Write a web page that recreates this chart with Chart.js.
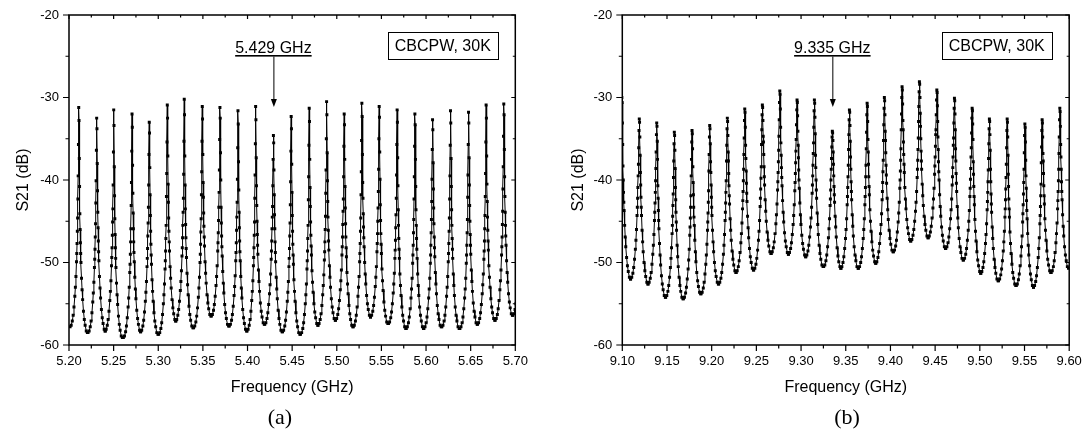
<!DOCTYPE html>
<html>
<head>
<meta charset="utf-8">
<title>CBCPW resonator S21</title>
<script src="https://cdn.jsdelivr.net/npm/chart.js@4.4.1/dist/chart.umd.min.js"></script>
<style>
    html, body { margin: 0; padding: 0; background: #fff; }
    #wrap { position: relative; width: 1086px; height: 433px; overflow: hidden; }
    #wrap canvas { position: absolute; top: 0; }
    #cvA { left: 0; }
    #cvB { left: 543px; }
    .tag { position: absolute; top: 404px; width: 80px; text-align: center; line-height: 24px;
           font: 22px "Liberation Serif", "Times New Roman", serif; color: #000; }
</style>
</head>
<body>
<div id="wrap">
    <canvas id="cvA" width="543" height="433"></canvas>
    <canvas id="cvB" width="543" height="433"></canvas>
    <div class="tag" style="left:240px">(a)</div>
    <div class="tag" style="left:807px">(b)</div>
</div>
<script>
// VNA sweep: 1601 points over 0.5 GHz; samples kept around each resonance,
// offsets counted in sweep steps from the top sample of the peak
const SWEEP_STEP = 0.5 / 1600;
const sampleOffsets = [-31, -27, -23, -20, -17, -14, -12, -10, -8, -7, -6, -5, -4, -3, -2, -1, 0,
                       1, 2, 3, 4, 5, 6, 7, 8, 10, 12, 14, 17, 20, 23, 27, 31];

// (a) 5.2 - 5.7 GHz
const xTicksA = [5.20, 5.25, 5.30, 5.35, 5.40, 5.45, 5.50, 5.55, 5.60, 5.65, 5.70];
const centresA = [5.2109, 5.2310, 5.2501, 5.2706, 5.2899, 5.3101, 5.3291, 5.3493, 5.3691, 5.3893,
                  5.4091, 5.4290, 5.4489, 5.4691, 5.4886, 5.5083, 5.5281, 5.5475, 5.5676, 5.5875,
                  5.6073, 5.6274, 5.6476, 5.6673, 5.6871, 5.7069];
const s21A = [
    [-57.8, -57.6, -57.1, -56.4, -55.4, -54.1, -53.0, -51.7, -49.9, -48.9, -47.7, -46.2, -44.6, -42.3, -39.5, -35.7, -31.2, -32.8, -37.4, -40.8, -44.1, -46.0, -47.6, -48.9, -50.0, -51.9, -53.3, -54.5, -55.9, -56.9, -57.6, -58.3, -58.5],
    [-58.5, -58.3, -57.8, -57.1, -56.1, -54.8, -53.7, -52.4, -50.6, -49.6, -48.4, -46.9, -45.3, -42.8, -40.1, -36.4, -32.5, -33.8, -38.0, -41.3, -43.9, -45.8, -47.4, -48.7, -49.8, -51.7, -53.1, -54.3, -55.7, -56.7, -57.4, -58.1, -58.3],
    [-58.3, -58.1, -57.6, -56.9, -55.9, -54.6, -53.5, -52.2, -50.4, -49.4, -48.2, -46.7, -45.1, -43.5, -40.6, -36.6, -31.5, -33.4, -38.4, -41.9, -44.7, -46.6, -48.2, -49.5, -50.6, -52.5, -53.9, -55.1, -56.5, -57.5, -58.2, -58.9, -59.1],
    [-59.1, -58.9, -58.4, -57.7, -56.7, -55.4, -54.3, -53.0, -51.2, -50.2, -49.0, -47.5, -45.9, -43.1, -40.3, -36.5, -32.0, -33.6, -38.2, -41.6, -44.0, -45.9, -47.5, -48.8, -49.9, -51.8, -53.2, -54.4, -55.8, -56.8, -57.5, -58.2, -58.4],
    [-58.4, -58.2, -57.7, -57.0, -56.0, -54.7, -53.6, -52.3, -50.5, -49.5, -48.3, -46.8, -45.2, -43.3, -40.6, -36.9, -33.0, -34.3, -38.5, -41.8, -44.3, -46.2, -47.8, -49.1, -50.2, -52.1, -53.5, -54.7, -56.1, -57.1, -57.8, -58.5, -58.7],
    [-58.7, -58.5, -58.0, -57.3, -56.3, -55.0, -53.9, -52.6, -50.8, -49.8, -48.6, -47.1, -45.5, -42.0, -39.2, -35.4, -30.9, -32.5, -37.1, -40.5, -42.7, -44.6, -46.2, -47.5, -48.6, -50.5, -51.9, -53.1, -54.5, -55.5, -56.2, -56.9, -57.1],
    [-57.1, -56.9, -56.4, -55.7, -54.7, -53.4, -52.3, -51.0, -49.2, -48.2, -47.0, -45.5, -43.9, -42.2, -39.3, -35.3, -30.2, -32.1, -37.1, -40.6, -43.5, -45.4, -47.0, -48.3, -49.4, -51.3, -52.7, -53.9, -55.3, -56.3, -57.0, -57.7, -57.9],
    [-57.9, -57.7, -57.2, -56.5, -55.5, -54.2, -53.1, -51.8, -50.0, -49.0, -47.8, -46.3, -44.7, -41.8, -39.0, -35.3, -31.1, -32.6, -36.9, -40.3, -42.1, -44.0, -45.6, -46.9, -48.0, -49.9, -51.3, -52.5, -53.9, -54.9, -55.6, -56.3, -56.5],
    [-56.5, -56.3, -55.8, -55.1, -54.1, -52.8, -51.7, -50.4, -48.6, -47.6, -46.4, -44.9, -43.3, -41.5, -38.8, -35.1, -31.2, -32.5, -36.7, -40.0, -43.3, -45.2, -46.8, -48.1, -49.2, -51.1, -52.5, -53.7, -55.1, -56.1, -56.8, -57.5, -57.7],
    [-57.7, -57.5, -57.0, -56.3, -55.3, -54.0, -52.9, -51.6, -49.8, -48.8, -47.6, -46.1, -44.5, -42.7, -39.9, -36.1, -31.6, -33.2, -37.8, -41.2, -43.9, -45.8, -47.4, -48.7, -49.8, -51.7, -53.1, -54.3, -55.7, -56.7, -57.4, -58.1, -58.3],
    [-58.3, -58.1, -57.6, -56.9, -55.9, -54.6, -53.5, -52.2, -50.4, -49.4, -48.2, -46.7, -45.1, -42.2, -39.4, -35.6, -31.1, -32.7, -37.3, -40.7, -43.1, -45.0, -46.6, -47.9, -49.0, -50.9, -52.3, -53.5, -54.9, -55.9, -56.6, -57.3, -57.5],
    [-57.5, -57.3, -56.8, -56.1, -55.1, -53.8, -52.7, -51.4, -49.6, -48.6, -47.4, -45.9, -44.5, -43.2, -40.7, -37.5, -34.6, -35.5, -38.8, -41.8, -44.2, -45.9, -47.5, -48.8, -49.9, -51.8, -53.2, -54.4, -55.8, -56.8, -57.5, -58.2, -58.4],
    [-58.4, -58.2, -57.7, -57.0, -56.0, -54.7, -53.6, -52.3, -50.5, -49.5, -48.3, -46.8, -45.2, -43.0, -40.2, -36.5, -32.3, -33.8, -38.1, -41.5, -44.3, -46.2, -47.8, -49.1, -50.2, -52.1, -53.5, -54.7, -56.1, -57.1, -57.8, -58.5, -58.7],
    [-58.7, -58.5, -58.0, -57.3, -56.3, -55.0, -53.9, -52.6, -50.8, -49.8, -48.6, -47.1, -45.5, -42.4, -39.6, -35.8, -31.3, -32.9, -37.5, -40.9, -43.2, -45.1, -46.7, -48.0, -49.1, -51.0, -52.4, -53.6, -55.0, -56.0, -56.7, -57.4, -57.6],
    [-57.6, -57.4, -56.9, -56.2, -55.2, -53.9, -52.8, -51.5, -49.7, -48.7, -47.5, -46.0, -44.4, -41.6, -38.8, -35.0, -30.5, -32.1, -36.7, -40.1, -42.6, -44.5, -46.1, -47.4, -48.5, -50.4, -51.8, -53.0, -54.4, -55.4, -56.1, -56.8, -57.0],
    [-57.0, -56.8, -56.3, -55.6, -54.6, -53.3, -52.2, -50.9, -49.1, -48.1, -46.9, -45.4, -43.8, -42.3, -39.6, -35.9, -32.0, -33.3, -37.5, -40.8, -43.4, -45.3, -46.9, -48.2, -49.3, -51.2, -52.6, -53.8, -55.2, -56.2, -56.9, -57.6, -57.8],
    [-57.8, -57.6, -57.1, -56.4, -55.4, -54.1, -53.0, -51.7, -49.9, -48.9, -47.7, -46.2, -44.6, -41.8, -39.0, -35.2, -30.7, -32.3, -36.9, -40.3, -42.2, -44.1, -45.7, -47.0, -48.1, -50.0, -51.4, -52.6, -54.0, -55.0, -55.7, -56.4, -56.6],
    [-56.6, -56.4, -55.9, -55.2, -54.2, -52.9, -51.8, -50.5, -48.7, -47.7, -46.5, -45.0, -43.4, -41.4, -38.7, -35.0, -31.1, -32.4, -36.6, -39.9, -43.0, -44.9, -46.5, -47.8, -48.9, -50.8, -52.2, -53.4, -54.8, -55.8, -56.5, -57.2, -57.4],
    [-57.4, -57.2, -56.7, -56.0, -55.0, -53.7, -52.6, -51.3, -49.5, -48.5, -47.3, -45.8, -44.2, -42.2, -39.4, -35.7, -31.5, -33.0, -37.3, -40.7, -43.6, -45.5, -47.1, -48.4, -49.5, -51.4, -52.8, -54.0, -55.4, -56.4, -57.1, -57.8, -58.0],
    [-58.0, -57.8, -57.3, -56.6, -55.6, -54.3, -53.2, -51.9, -50.1, -49.1, -47.9, -46.4, -44.8, -42.3, -39.6, -35.9, -32.0, -33.3, -37.5, -40.8, -43.6, -45.5, -47.1, -48.4, -49.5, -51.4, -52.8, -54.0, -55.4, -56.4, -57.1, -57.8, -58.0],
    [-58.0, -57.8, -57.3, -56.6, -55.6, -54.3, -53.2, -51.9, -50.1, -49.1, -47.9, -46.4, -44.8, -42.6, -39.9, -36.3, -32.7, -33.9, -37.9, -41.1, -43.4, -45.3, -46.9, -48.2, -49.3, -51.2, -52.6, -53.8, -55.2, -56.2, -56.9, -57.6, -57.8],
    [-57.8, -57.6, -57.1, -56.4, -55.4, -54.1, -53.0, -51.7, -49.9, -48.9, -47.7, -46.2, -44.6, -42.3, -39.5, -35.8, -31.6, -33.1, -37.4, -40.8, -43.6, -45.5, -47.1, -48.4, -49.5, -51.4, -52.8, -54.0, -55.4, -56.4, -57.1, -57.8, -58.0],
    [-58.0, -57.8, -57.3, -56.6, -55.6, -54.3, -53.2, -51.9, -50.1, -49.1, -47.9, -46.4, -44.8, -42.1, -39.4, -35.7, -31.8, -33.1, -37.3, -40.6, -43.1, -45.0, -46.6, -47.9, -49.0, -50.9, -52.3, -53.5, -54.9, -55.9, -56.6, -57.3, -57.5],
    [-57.5, -57.3, -56.8, -56.1, -55.1, -53.8, -52.7, -51.4, -49.6, -48.6, -47.4, -45.9, -44.3, -42.0, -39.2, -35.4, -30.9, -32.5, -37.1, -40.5, -42.6, -44.5, -46.1, -47.4, -48.5, -50.4, -51.8, -53.0, -54.4, -55.4, -56.1, -56.8, -57.0],
    [-57.0, -56.8, -56.3, -55.6, -54.6, -53.3, -52.2, -50.9, -49.1, -48.1, -46.9, -45.4, -43.8, -41.1, -38.4, -34.7, -30.8, -32.1, -36.3, -39.6, -42.0, -43.9, -45.5, -46.8, -47.9, -49.8, -51.2, -52.4, -53.8, -54.8, -55.5, -56.2, -56.4],
    [-56.4, -56.2, -55.7, -55.0, -54.0]
];

// (b) 9.1 - 9.6 GHz
const xTicksB = [9.10, 9.15, 9.20, 9.25, 9.30, 9.35, 9.40, 9.45, 9.50, 9.55, 9.60];
const centresB = [9.0995, 9.1190, 9.1385, 9.1582, 9.1780, 9.1978, 9.2175, 9.2370, 9.2567, 9.2762,
                  9.2955, 9.3149, 9.3350, 9.3541, 9.3739, 9.3932, 9.4130, 9.4324, 9.4519, 9.4716,
                  9.4914, 9.5107, 9.5306, 9.5504, 9.5697, 9.5895];
const s21B = [
    [null, null, null, null, null, null, null, null, null, null, null, null, null, null, null, null, -30.0, -30.6, -33.1, -35.7, -38.3, -40.0, -41.5, -42.7, -43.7, -45.5, -46.9, -48.1, -49.4, -50.4, -51.1, -51.8, -52.0],
    [-52.0, -51.8, -51.3, -50.6, -49.6, -48.4, -47.3, -46.0, -44.3, -43.3, -42.2, -40.9, -39.5, -38.1, -36.1, -34.0, -32.6, -33.0, -34.8, -37.0, -39.1, -40.6, -42.1, -43.3, -44.3, -46.1, -47.5, -48.7, -50.0, -51.0, -51.7, -52.4, -52.6],
    [-52.6, -52.4, -51.9, -51.2, -50.2, -49.0, -47.9, -46.6, -44.9, -43.9, -42.8, -41.5, -40.1, -38.6, -36.6, -34.5, -33.1, -33.5, -35.3, -37.5, -40.7, -42.2, -43.7, -44.9, -45.9, -47.7, -49.1, -50.3, -51.6, -52.6, -53.3, -54.0, -54.2],
    [-54.2, -54.0, -53.5, -52.8, -51.8, -50.6, -49.5, -48.2, -46.5, -45.5, -44.4, -43.1, -41.7, -39.7, -37.7, -35.6, -34.2, -34.6, -36.4, -38.6, -40.9, -42.4, -43.9, -45.1, -46.1, -47.9, -49.3, -50.5, -51.8, -52.8, -53.5, -54.2, -54.4],
    [-54.4, -54.2, -53.7, -53.0, -52.0, -50.8, -49.7, -48.4, -46.7, -45.7, -44.6, -43.3, -41.9, -39.5, -37.5, -35.4, -34.0, -34.4, -36.2, -38.4, -40.3, -41.8, -43.3, -44.5, -45.5, -47.3, -48.7, -49.9, -51.2, -52.2, -52.9, -53.6, -53.8],
    [-53.8, -53.6, -53.1, -52.4, -51.4, -50.2, -49.1, -47.8, -46.1, -45.1, -44.0, -42.7, -41.3, -38.9, -36.9, -34.8, -33.4, -33.8, -35.6, -37.8, -39.1, -40.6, -42.1, -43.3, -44.3, -46.1, -47.5, -48.7, -50.0, -51.0, -51.7, -52.4, -52.6],
    [-52.6, -52.4, -51.9, -51.2, -50.2, -49.0, -47.9, -46.6, -44.9, -43.9, -42.8, -41.5, -40.1, -37.7, -35.8, -33.8, -32.5, -32.9, -34.6, -36.6, -37.7, -39.2, -40.7, -41.9, -42.9, -44.7, -46.1, -47.3, -48.6, -49.6, -50.3, -51.0, -51.2],
    [-51.2, -51.0, -50.5, -49.8, -48.8, -47.6, -46.5, -45.2, -43.5, -42.5, -41.4, -40.1, -38.7, -36.9, -34.9, -32.8, -31.4, -31.8, -33.6, -35.8, -37.4, -38.9, -40.4, -41.6, -42.6, -44.4, -45.8, -47.0, -48.3, -49.3, -50.0, -50.7, -50.9],
    [-50.9, -50.7, -50.2, -49.5, -48.5, -47.3, -46.2, -44.9, -43.2, -42.2, -41.1, -39.8, -38.4, -35.7, -33.9, -32.1, -30.9, -31.2, -32.8, -34.7, -35.4, -36.9, -38.4, -39.6, -40.6, -42.4, -43.8, -45.0, -46.3, -47.3, -48.0, -48.7, -48.9],
    [-48.9, -48.7, -48.2, -47.5, -46.5, -45.3, -44.2, -42.9, -41.2, -40.2, -39.1, -37.8, -36.4, -34.7, -32.7, -30.6, -29.2, -29.6, -31.4, -33.6, -35.5, -37.0, -38.5, -39.7, -40.7, -42.5, -43.9, -45.1, -46.4, -47.4, -48.1, -48.8, -49.0],
    [-49.0, -48.8, -48.3, -47.6, -46.6, -45.4, -44.3, -43.0, -41.3, -40.3, -39.2, -37.9, -36.5, -35.1, -33.3, -31.5, -30.3, -30.6, -32.2, -34.1, -35.8, -37.3, -38.8, -40.0, -41.0, -42.8, -44.2, -45.4, -46.7, -47.7, -48.4, -49.1, -49.3],
    [-49.3, -49.1, -48.6, -47.9, -46.9, -45.7, -44.6, -43.3, -41.6, -40.6, -39.5, -38.2, -36.8, -35.5, -33.6, -31.6, -30.3, -30.7, -32.4, -34.4, -37.0, -38.5, -40.0, -41.2, -42.2, -44.0, -45.4, -46.6, -47.9, -48.9, -49.6, -50.3, -50.5],
    [-50.5, -50.3, -49.8, -49.1, -48.1, -47.0, -45.9, -44.7, -43.1, -42.3, -41.2, -40.0, -38.7, -37.4, -36.0, -34.8, -34.1, -34.3, -35.2, -36.6, -38.1, -39.5, -40.8, -41.8, -42.7, -44.4, -45.7, -46.9, -48.2, -49.2, -49.9, -50.5, -50.7],
    [-50.7, -50.5, -50.0, -49.3, -48.3, -47.1, -46.0, -44.7, -43.0, -42.0, -40.9, -39.6, -38.2, -36.3, -34.5, -32.7, -31.5, -31.8, -33.4, -35.3, -37.2, -38.7, -40.2, -41.4, -42.4, -44.2, -45.6, -46.8, -48.1, -49.1, -49.8, -50.5, -50.7],
    [-50.7, -50.5, -50.0, -49.3, -48.3, -47.1, -46.0, -44.7, -43.0, -42.0, -40.9, -39.6, -38.2, -36.2, -34.2, -32.1, -30.7, -31.1, -32.9, -35.1, -36.6, -38.1, -39.6, -40.8, -41.8, -43.6, -45.0, -46.2, -47.5, -48.5, -49.2, -49.9, -50.1],
    [-50.1, -49.9, -49.4, -48.7, -47.7, -46.5, -45.4, -44.1, -42.4, -41.4, -40.3, -39.0, -37.6, -35.2, -33.3, -31.3, -30.0, -30.4, -32.1, -34.1, -35.2, -36.7, -38.2, -39.4, -40.4, -42.2, -43.6, -44.8, -46.1, -47.1, -47.8, -48.5, -48.7],
    [-48.7, -48.5, -48.0, -47.3, -46.3, -45.1, -44.0, -42.7, -41.0, -40.0, -38.9, -37.6, -36.2, -33.9, -32.0, -30.0, -28.7, -29.1, -30.8, -32.8, -33.9, -35.4, -36.9, -38.1, -39.1, -40.9, -42.3, -43.5, -44.8, -45.8, -46.5, -47.2, -47.4],
    [-47.4, -47.2, -46.7, -46.0, -45.0, -43.8, -42.7, -41.4, -39.7, -38.7, -37.6, -36.3, -34.9, -32.9, -31.1, -29.3, -28.1, -28.4, -30.0, -31.9, -33.5, -35.0, -36.5, -37.7, -38.7, -40.5, -41.9, -43.1, -44.4, -45.4, -46.1, -46.8, -47.0],
    [-47.0, -46.8, -46.3, -45.6, -44.6, -43.4, -42.3, -41.0, -39.3, -38.3, -37.2, -35.9, -34.5, -33.9, -32.1, -30.3, -29.1, -29.4, -31.0, -32.9, -34.8, -36.3, -37.8, -39.0, -40.0, -41.8, -43.2, -44.4, -45.7, -46.7, -47.4, -48.1, -48.3],
    [-48.3, -48.1, -47.6, -46.9, -45.9, -44.7, -43.6, -42.3, -40.6, -39.6, -38.5, -37.2, -35.8, -34.9, -33.1, -31.3, -30.1, -30.4, -32.0, -33.9, -36.2, -37.7, -39.2, -40.4, -41.4, -43.2, -44.6, -45.8, -47.1, -48.1, -48.8, -49.5, -49.7],
    [-49.7, -49.5, -49.0, -48.3, -47.3, -46.1, -45.0, -43.7, -42.0, -41.0, -39.9, -38.6, -37.2, -36.1, -34.3, -32.5, -31.3, -31.6, -33.2, -35.1, -37.8, -39.3, -40.8, -42.0, -43.0, -44.8, -46.2, -47.4, -48.7, -49.7, -50.4, -51.1, -51.3],
    [-51.3, -51.1, -50.6, -49.9, -48.9, -47.7, -46.6, -45.3, -43.6, -42.6, -41.5, -40.2, -38.8, -37.4, -35.6, -33.8, -32.6, -32.9, -34.5, -36.4, -38.7, -40.2, -41.7, -42.9, -43.9, -45.7, -47.1, -48.3, -49.6, -50.6, -51.3, -52.0, -52.2],
    [-52.2, -52.0, -51.5, -50.8, -49.8, -48.6, -47.5, -46.2, -44.5, -43.5, -42.4, -41.1, -39.7, -38.1, -36.1, -34.0, -32.6, -33.0, -34.8, -37.0, -39.3, -40.8, -42.3, -43.5, -44.5, -46.3, -47.7, -48.9, -50.2, -51.2, -51.9, -52.6, -52.8],
    [-52.8, -52.6, -52.1, -51.4, -50.4, -49.2, -48.1, -46.8, -45.1, -44.1, -43.0, -41.7, -40.3, -38.7, -36.7, -34.6, -33.2, -33.6, -35.4, -37.6, -39.5, -41.0, -42.5, -43.7, -44.7, -46.5, -47.9, -49.1, -50.4, -51.4, -52.1, -52.8, -53.0],
    [-53.0, -52.8, -52.3, -51.6, -50.6, -49.4, -48.3, -47.0, -45.3, -44.3, -43.2, -41.9, -40.5, -37.9, -36.0, -34.0, -32.7, -33.1, -34.8, -36.8, -37.7, -39.2, -40.7, -41.9, -42.9, -44.7, -46.1, -47.3, -48.6, -49.6, -50.3, -51.0, -51.2],
    [-51.2, -51.0, -50.5, -49.8, -48.8, -47.6, -46.5, -45.2, -43.5, -42.5, -41.4, -40.1, -38.7, -36.8, -34.8, -32.7, -31.3, -31.7, -33.5, -35.7, -37.2, -38.7, -40.2, -41.4, -42.4, -44.2, -45.6, -46.8, -48.1, -49.1, -49.8, -50.5, -50.7]
];

const yTicks = [-60, -50, -40, -30, -20];

// marked resonances
const markA = { freq: 5.429, label: '5.429 GHz' };
const markB = { freq: 9.335, label: '9.335 GHz' };
const sampleTag = 'CBCPW, 30K';

const FONT = 'Arial, "Liberation Sans", sans-serif';
Chart.defaults.font.family = FONT;
Chart.defaults.color = '#000';

function toPoints(centres, rows) {
    const pts = [];
    rows.forEach((row, i) => row.forEach((v, j) => {
        if (v !== null) pts.push({ x: centres[i] + sampleOffsets[j] * SWEEP_STEP, y: v });
    }));
    return pts;
}

// Origin-style frame: outward ticks on bottom/left, inward on top/right, plus note and arrow
const framePlugin = {
    id: 'frame',
    afterDatasetsDraw(chart, args, opts) {
        const { ctx, chartArea: a, scales: { x, y } } = chart;
        ctx.save();
        ctx.strokeStyle = '#000';
        ctx.lineWidth = 1.5;
        ctx.strokeRect(a.left, a.top, a.right - a.left, a.bottom - a.top);

        ctx.lineWidth = 1.2;
        ctx.beginPath();
        const xv = x.ticks.map(t => t.value);
        xv.forEach((v, i) => {
            const px = x.getPixelForValue(v);
            ctx.moveTo(px, a.bottom); ctx.lineTo(px, a.bottom + 6);
            ctx.moveTo(px, a.top); ctx.lineTo(px, a.top + 4);
            if (i < xv.length - 1) {
                const pm = x.getPixelForValue((v + xv[i + 1]) / 2);
                ctx.moveTo(pm, a.bottom); ctx.lineTo(pm, a.bottom + 3.5);
                ctx.moveTo(pm, a.top); ctx.lineTo(pm, a.top + 2.5);
            }
        });
        const yv = y.ticks.map(t => t.value);
        yv.forEach((v, i) => {
            const py = y.getPixelForValue(v);
            ctx.moveTo(a.left, py); ctx.lineTo(a.left - 6, py);
            ctx.moveTo(a.right, py); ctx.lineTo(a.right - 4, py);
            if (i < yv.length - 1) {
                const pm = y.getPixelForValue((v + yv[i + 1]) / 2);
                ctx.moveTo(a.left, pm); ctx.lineTo(a.left - 3.5, pm);
                ctx.moveTo(a.right, pm); ctx.lineTo(a.right - 2.5, pm);
            }
        });
        ctx.stroke();

        // marked resonance: underlined label with arrow
        const mx = x.getPixelForValue(opts.mark.freq);
        ctx.font = '16px ' + FONT;
        ctx.fillStyle = '#000';
        ctx.textAlign = 'center';
        ctx.textBaseline = 'alphabetic';
        const base = a.top + 37.5;
        ctx.fillText(opts.mark.label, mx, base);
        const w = ctx.measureText(opts.mark.label).width;
        ctx.fillRect(mx - w / 2, base + 2.5, w, 1.6);
        ctx.lineWidth = 1;
        ctx.beginPath();
        ctx.moveTo(mx + 0.5, base + 4);
        ctx.lineTo(mx + 0.5, a.top + 86);
        ctx.stroke();
        ctx.beginPath();
        ctx.moveTo(mx - 2.5, a.top + 84);
        ctx.lineTo(mx + 3.5, a.top + 84);
        ctx.lineTo(mx + 0.5, a.top + 92);
        ctx.closePath();
        ctx.fill();

        // sample tag box
        const tw = ctx.measureText(sampleTag).width;
        const bw = tw + 14, bh = 26.5;
        const bx = a.right - 17.5 - bw, by = a.top + 17;
        ctx.lineWidth = 1;
        ctx.strokeRect(Math.round(bx) + 0.5, Math.round(by) + 0.5, Math.round(bw), Math.round(bh));
        ctx.textBaseline = 'middle';
        ctx.fillText(sampleTag, bx + bw / 2, by + bh / 2 + 1);
        ctx.restore();
    }
};

function panel(canvasId, centres, rows, xTicks, mark, box) {
    return new Chart(document.getElementById(canvasId), {
        type: 'line',
        data: {
            datasets: [{
                data: toPoints(centres, rows),
                borderColor: '#000',
                borderWidth: 1,
                pointStyle: 'rect',
                pointRadius: 2.1,
                pointBackgroundColor: '#000',
                pointBorderWidth: 0,
                tension: 0
            }]
        },
        options: {
            responsive: false,
            animation: false,
            devicePixelRatio: 1,
            events: [],
            layout: { padding: { left: 0, top: 15, right: box.right, bottom: 0 } },
            plugins: { legend: { display: false }, tooltip: { enabled: false }, frame: { mark } },
            scales: {
                x: {
                    type: 'linear', min: xTicks[0], max: xTicks[xTicks.length - 1],
                    grid: { display: false, drawTicks: false },
                    border: { display: false },
                    afterBuildTicks: s => { s.ticks = xTicks.map(v => ({ value: v })); },
                    afterFit: s => { s.height = 88; s.paddingLeft = 0; s.paddingRight = 0; },
                    ticks: { autoSkip: false, maxRotation: 0, padding: 9, font: { size: 13 },
                             callback: v => v.toFixed(2) },
                    title: { display: true, text: 'Frequency (GHz)', font: { size: 16 }, padding: { top: 0, bottom: 36 } }
                },
                y: {
                    type: 'linear', min: -60, max: -20,
                    grid: { display: false, drawTicks: false },
                    border: { display: false },
                    afterBuildTicks: s => { s.ticks = yTicks.map(v => ({ value: v })); },
                    afterFit: s => { s.width = box.left; s.paddingTop = 0; s.paddingBottom = 0; },
                    ticks: { padding: 10, font: { size: 13 }, callback: v => String(v) },
                    title: { display: true, text: 'S21 (dB)', font: { size: 16 }, padding: { top: box.title, bottom: 0 } }
                }
            }
        },
        plugins: [framePlugin]
    });
}

panel('cvA', centresA, s21A, xTicksA, markA, { left: 69, right: 27.7, title: 13.5 });
panel('cvB', centresB, s21B, xTicksB, markB, { left: 79.3, right: 16.8, title: 25.5 });
</script>
</body>
</html>
